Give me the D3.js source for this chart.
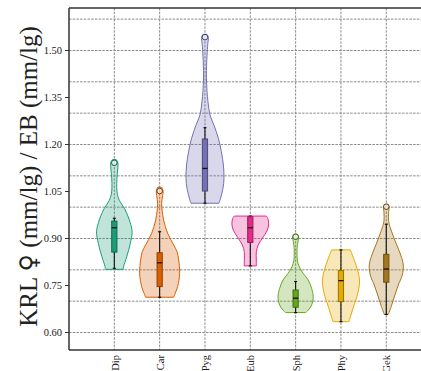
<!DOCTYPE html>
<html>
<head>
<meta charset="utf-8">
<script src="https://cdn.jsdelivr.net/npm/d3@7"></script>
<style>
  html, body { margin: 0; padding: 0; background: #fff; }
  svg { display: block; }
</style>
</head>
<body>
<svg id="chart" width="421" height="371"></svg>
<script>
// Groups shown along the x axis
const categories = ["Dip", "Car", "Pyg", "Eub", "Sph", "Phy", "Gek"];

// Y axis tick labels and the finer grid levels
const yTicks = [0.60, 0.75, 0.90, 1.05, 1.20, 1.35, 1.50];
const yGrid = [0.6, 0.7, 0.8, 0.9, 1.0, 1.1, 1.2, 1.3, 1.4, 1.5, 1.6];

// Kernel density profiles: [ratio value, relative density]
const densityDip = [[1.150,0.10],[1.140,0.18],[1.120,0.17],[1.090,0.13],[1.060,0.12],[1.040,0.15],[1.020,0.25],[0.995,0.50],[0.970,0.68],[0.950,0.79],[0.920,0.89],[0.883,0.80],[0.840,0.62],[0.808,0.46],[0.800,0.45]];
const densityCar = [[1.062,0.10],[1.050,0.17],[1.035,0.15],[1.011,0.10],[0.985,0.13],[0.957,0.20],[0.915,0.40],[0.878,0.70],[0.856,0.87],[0.830,0.95],[0.787,1.00],[0.745,0.90],[0.724,0.78],[0.711,0.70]];
const densityPyg = [[1.550,0.10],[1.541,0.17],[1.520,0.14],[1.480,0.10],[1.420,0.07],[1.370,0.10],[1.335,0.15],[1.293,0.25],[1.260,0.45],[1.218,0.67],[1.175,0.82],[1.133,0.92],[1.090,0.95],[1.059,0.90],[1.027,0.78],[1.011,0.70]];
const densityEub = [[0.970,0.80],[0.962,0.88],[0.945,0.92],[0.925,0.85],[0.899,0.60],[0.878,0.40],[0.856,0.30],[0.830,0.30],[0.811,0.30]];
const densitySph = [[0.912,0.08],[0.904,0.15],[0.890,0.12],[0.862,0.07],[0.819,0.12],[0.787,0.38],[0.766,0.63],[0.739,0.80],[0.713,0.88],[0.686,0.80],[0.670,0.63],[0.662,0.50]];
const densityPhy = [[0.862,0.47],[0.830,0.66],[0.798,0.83],[0.766,0.93],[0.745,0.91],[0.713,0.80],[0.681,0.63],[0.654,0.50],[0.633,0.40]];
const densityGek = [[1.007,0.08],[1.000,0.14],[0.985,0.12],[0.952,0.12],[0.920,0.27],[0.878,0.52],[0.846,0.72],[0.814,0.85],[0.782,0.80],[0.750,0.60],[0.718,0.43],[0.686,0.27],[0.656,0.10]];

// Box plot summaries per group
const whiskerLow  = [0.803, 0.711, 1.011, 0.811, 0.662, 0.633, 0.656];
const quartile1   = [0.855, 0.745, 1.050, 0.886, 0.679, 0.697, 0.759];
const medians     = [0.933, 0.821, 1.122, 0.933, 0.708, 0.764, 0.801];
const quartile3   = [0.954, 0.853, 1.216, 0.968, 0.734, 0.796, 0.848];
const whiskerHigh = [0.963, 0.920, 1.252, 0.970, 0.761, 0.862, 0.944];
const outliers    = [[1.140], [1.050], [1.541], [], [0.904], [], [1.000]];

const densities = [densityDip, densityCar, densityPyg, densityEub, densitySph, densityPhy, densityGek];
const colors = ["#1b9e77", "#d95f02", "#7570b3", "#e7298a", "#66a61e", "#e6ab02", "#a6761d"];

const W = 421, H = 371;
const mLeft = 69, mTop = 8, mBottom = 350;
const plotRight = 431.6;

const svg = d3.select("#chart");

const y = d3.scaleLinear().domain([0.5426, 1.634]).range([mBottom, mTop]);
const x = d3.scalePoint().domain(categories).range([mLeft, plotRight]).padding(1);
const halfWidth = d3.scaleLinear().domain([0, 1]).range([0, 20]);

// Grid
const grid = svg.append("g").attr("stroke", "#8a8a8a").attr("stroke-width", 1)
  .attr("stroke-dasharray", "2.5,1.2").attr("fill", "none");
grid.selectAll("line.h").data(yGrid).join("line").attr("class", "h")
  .attr("x1", mLeft).attr("x2", W).attr("y1", d => y(d) + 0.5).attr("y2", d => y(d) + 0.5);
grid.selectAll("line.v").data(categories).join("line").attr("class", "v")
  .attr("x1", d => x(d)).attr("x2", d => x(d)).attr("y1", mTop).attr("y2", mBottom);

// Violins
const area = d3.area()
  .y(d => y(d[0]))
  .curve(d3.curveCatmullRom);

categories.forEach((c, i) => {
  const cx = x(c);
  const g = svg.append("g");
  const col = d3.color(colors[i]);
  g.append("path")
    .datum(densities[i])
    .attr("d", area.x0(d => cx - halfWidth(d[1])).x1(d => cx + halfWidth(d[1])))
    .attr("fill", colors[i]).attr("fill-opacity", 0.28)
    .attr("stroke", colors[i]).attr("stroke-width", 1);

  // whisker
  g.append("line")
    .attr("x1", cx).attr("x2", cx)
    .attr("y1", y(whiskerLow[i])).attr("y2", y(whiskerHigh[i]))
    .attr("stroke", "#111").attr("stroke-width", 1.1);
  // whisker caps
  [whiskerLow[i], whiskerHigh[i]].forEach(v => {
    g.append("line").attr("x1", cx - 1.5).attr("x2", cx + 1.5)
      .attr("y1", y(v)).attr("y2", y(v)).attr("stroke", "#111").attr("stroke-width", 1.2);
  });
  // box
  g.append("rect")
    .attr("x", cx - 2.6).attr("width", 5.2)
    .attr("y", y(quartile3[i])).attr("height", y(quartile1[i]) - y(quartile3[i]))
    .attr("fill", colors[i])
    .attr("stroke", col.darker(1.2)).attr("stroke-width", 1);
  // median
  g.append("line").attr("x1", cx - 2.6).attr("x2", cx + 2.6)
    .attr("y1", y(medians[i])).attr("y2", y(medians[i]))
    .attr("stroke", "#111").attr("stroke-width", 1.3);
  // outliers
  g.selectAll("circle").data(outliers[i]).join("circle")
    .attr("cx", cx).attr("cy", d => y(d)).attr("r", 2.8)
    .attr("fill", "#fff").attr("fill-opacity", 0.6)
    .attr("stroke", col.darker(1.5)).attr("stroke-width", 1);
});

// Frame
const frame = svg.append("g").attr("stroke", "#333").attr("fill", "none");
frame.append("line").attr("x1", mLeft).attr("x2", mLeft).attr("y1", mTop).attr("y2", mBottom).attr("stroke-width", 1.5);
frame.append("line").attr("x1", mLeft).attr("x2", W).attr("y1", mTop).attr("y2", mTop).attr("stroke-width", 1.5);
frame.append("line").attr("x1", mLeft).attr("x2", W).attr("y1", mBottom).attr("y2", mBottom).attr("stroke-width", 1.5);

// Y axis
const yAxis = d3.axisLeft(y).tickValues(yTicks).tickFormat(d3.format(".2f")).tickSizeOuter(0).tickSize(4).tickPadding(3);
const ya = svg.append("g").attr("transform", `translate(${mLeft},0)`).call(yAxis);
ya.select(".domain").remove();
ya.selectAll("line").attr("stroke", "#333");
ya.selectAll("text").attr("font-family", "'Liberation Serif', 'Times New Roman', serif")
  .attr("font-size", 10.5).attr("fill", "#222");

// X axis labels
const xa = svg.append("g").attr("transform", `translate(0,${mBottom})`)
  .call(d3.axisBottom(x).tickSize(0).tickPadding(0));
xa.select(".domain").remove();
xa.selectAll("text")
  .attr("transform", "rotate(-90)")
  .attr("x", -5).attr("y", 0).attr("dy", "0.35em")
  .attr("text-anchor", "end")
  .attr("font-family", "'Liberation Serif', 'Times New Roman', serif")
  .attr("font-size", 10.5).attr("fill", "#222");

// Y axis title
const title = svg.append("text")
  .attr("transform", `translate(37,${(25 + 328) / 2}) rotate(-90)`)
  .attr("text-anchor", "middle")
  .attr("font-family", "'Liberation Serif', 'Times New Roman', serif")
  .attr("font-size", 25).attr("fill", "#222");
title.append("tspan").text("KRL ");
title.append("tspan").attr("font-family", "'DejaVu Serif', serif").attr("font-size", 24).text("♀");
title.append("tspan").text(" (mm/lg) / EB (mm/lg)");
</script>
</body>
</html>
